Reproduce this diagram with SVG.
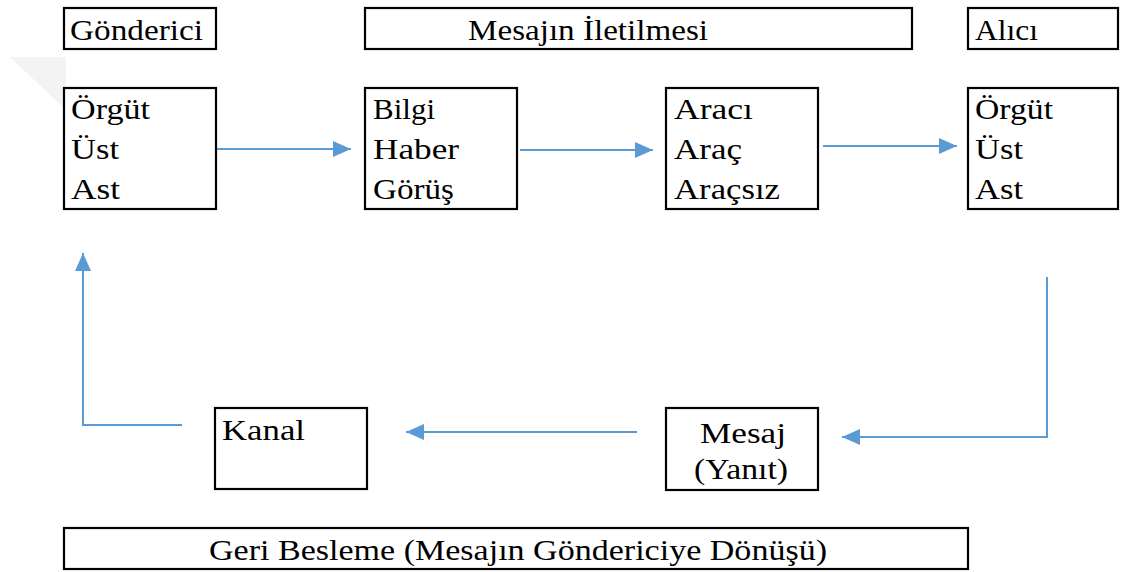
<svg xmlns="http://www.w3.org/2000/svg" width="1121" height="572" viewBox="0 0 1121 572">
<style>
.box{fill:#fff;stroke:#000;stroke-width:2.2}
.t{font-family:'Liberation Serif','Times New Roman',serif;font-size:29px;fill:#000}
.c{fill:none;stroke:#5b9bd5;stroke-width:2}
</style>
<defs>
<marker id="ah" markerUnits="userSpaceOnUse" markerWidth="20" markerHeight="16" refX="18" refY="8" orient="auto">
<path d="M0,0 L18,8 L0,16 z" fill="#5b9bd5"/>
</marker>
</defs>
<rect width="1121" height="572" fill="#fff"/>
<polygon points="10,57 66,57 66,110" fill="#f3f3f3"/>
<g id="gonderici">
<rect class="box" x="64" y="8" width="152" height="41"/>
<text class="t" x="70" y="40" textLength="133" lengthAdjust="spacingAndGlyphs">Gönderici</text>
</g>
<g id="mesajin-iletilmesi">
<rect class="box" x="365" y="8" width="547" height="41"/>
<text class="t" x="468" y="40" textLength="240" lengthAdjust="spacingAndGlyphs">Mesajın İletilmesi</text>
</g>
<g id="alici">
<rect class="box" x="968" y="8" width="150" height="41"/>
<text class="t" x="975" y="40" textLength="63" lengthAdjust="spacingAndGlyphs">Alıcı</text>
</g>
<g id="gonderici-detay">
<rect class="box" x="64" y="88" width="152" height="121"/>
<text class="t" x="71" y="119" textLength="79" lengthAdjust="spacingAndGlyphs">Örgüt</text>
<text class="t" x="71" y="159" textLength="48" lengthAdjust="spacingAndGlyphs">Üst</text>
<text class="t" x="71" y="199" textLength="49" lengthAdjust="spacingAndGlyphs">Ast</text>
</g>
<g id="mesaj-icerik">
<rect class="box" x="365" y="88" width="152" height="121"/>
<text class="t" x="373" y="119" textLength="62" lengthAdjust="spacingAndGlyphs">Bilgi</text>
<text class="t" x="373" y="159" textLength="86" lengthAdjust="spacingAndGlyphs">Haber</text>
<text class="t" x="373" y="199" textLength="81" lengthAdjust="spacingAndGlyphs">Görüş</text>
</g>
<g id="arac">
<rect class="box" x="666" y="88" width="152" height="121"/>
<text class="t" x="674" y="119" textLength="79" lengthAdjust="spacingAndGlyphs">Aracı</text>
<text class="t" x="674" y="159" textLength="68" lengthAdjust="spacingAndGlyphs">Araç</text>
<text class="t" x="674" y="199" textLength="106" lengthAdjust="spacingAndGlyphs">Araçsız</text>
</g>
<g id="alici-detay">
<rect class="box" x="968" y="88" width="150" height="121"/>
<text class="t" x="975" y="119" textLength="78" lengthAdjust="spacingAndGlyphs">Örgüt</text>
<text class="t" x="975" y="159" textLength="48" lengthAdjust="spacingAndGlyphs">Üst</text>
<text class="t" x="975" y="199" textLength="48" lengthAdjust="spacingAndGlyphs">Ast</text>
</g>
<g id="kanal">
<rect class="box" x="215" y="408" width="152" height="81"/>
<text class="t" x="222" y="440" textLength="83" lengthAdjust="spacingAndGlyphs">Kanal</text>
</g>
<g id="mesaj-yanit">
<rect class="box" x="666" y="408" width="152" height="82"/>
<text class="t" x="743" y="443" text-anchor="middle" textLength="86" lengthAdjust="spacingAndGlyphs">Mesaj</text>
<text class="t" x="741" y="479" text-anchor="middle" textLength="94" lengthAdjust="spacingAndGlyphs">(Yanıt)</text>
</g>
<g id="geri-besleme">
<rect class="box" x="64" y="528" width="904" height="41"/>
<text class="t" x="518" y="560" text-anchor="middle" textLength="618" lengthAdjust="spacingAndGlyphs">Geri Besleme (Mesajın Göndericiye Dönüşü)</text>
</g>
<g id="connectors">
<line class="c" x1="217" y1="149" x2="351" y2="149" marker-end="url(#ah)"/>
<line class="c" x1="520" y1="150" x2="653" y2="150" marker-end="url(#ah)"/>
<line class="c" x1="823" y1="146" x2="957" y2="146" marker-end="url(#ah)"/>
<polyline class="c" points="1047,277 1047,437 842,437" marker-end="url(#ah)"/>
<line class="c" x1="637" y1="432" x2="406" y2="432" marker-end="url(#ah)"/>
<polyline class="c" points="182,425 83,425 83,253" marker-end="url(#ah)"/>
</g>
</svg>
